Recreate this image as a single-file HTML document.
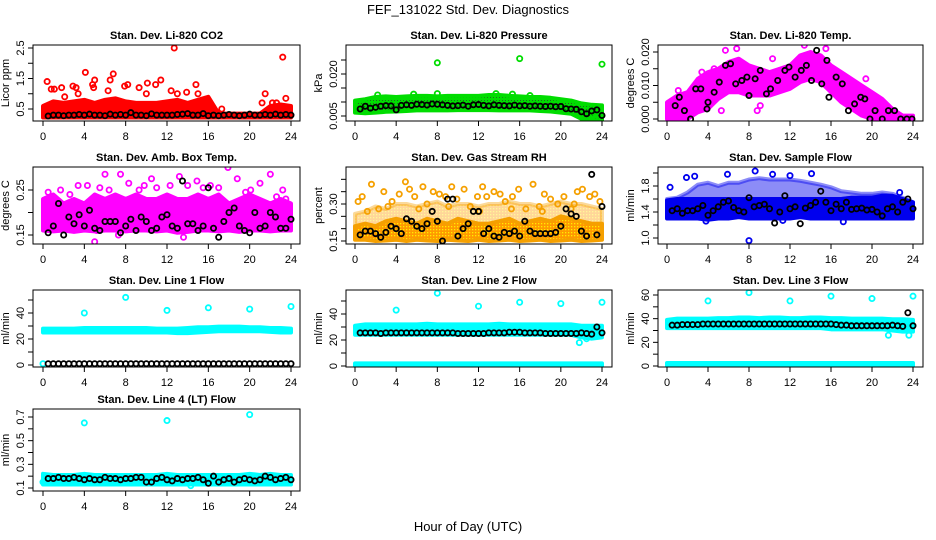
<!DOCTYPE html>
<html><head><meta charset="utf-8"><style>
html,body{margin:0;padding:0;background:#fff;}
svg{display:block;font-family:"Liberation Sans",Arial,sans-serif;}
</style></head><body>
<svg id="chart" width="936" height="540" viewBox="0 0 936 540">
<defs>
<pattern id="pat-green" width="3" height="3" patternUnits="userSpaceOnUse"><rect width="3" height="3" fill="#00dd00"/><rect x="1" y="1" width="1" height="1" fill="#226622"/></pattern>
<pattern id="pat-orange" width="3" height="3" patternUnits="userSpaceOnUse"><rect width="3" height="3" fill="#ff9900"/><rect x="1" y="1" width="1.3" height="1.3" fill="#ffee00"/></pattern>
</defs>
<rect width="936" height="540" fill="#fff"/>
<text x="468" y="14" text-anchor="middle" font-size="13">FEF_131022  Std. Dev. Diagnostics</text>
<text x="468" y="531" text-anchor="middle" font-size="13">Hour of Day (UTC)</text>
</svg>
<script>
// ---------- shared data ----------
const xTicks = [0,4,8,12,16,20,24];
const bandHours = [0,1,2,3,4,5,6,7,8,9,10,11,12,13,14,15,16,17,18,19,20,21,22,23,24];
const blackHours = [0.5,1,1.5,2,2.5,3,3.5,4,4.5,5,5.5,6,6.5,7,7.5,8,8.5,9,9.5,10,10.5,11,11.5,12,12.5,13,13.5,14,14.5,15,15.5,16,16.5,17,17.5,18,18.5,19,19.5,20,20.5,21,21.5,22,22.5,23,23.5,24];

// P1 CO2
const co2Lo = [0.22,0.22,0.22,0.22,0.22,0.22,0.22,0.22,0.22,0.22,0.22,0.22,0.22,0.22,0.22,0.22,0.22,0.22,0.22,0.22,0.22,0.22,0.22,0.22,0.22];
const co2Hi = [0.6,0.75,0.7,0.75,0.8,0.7,0.8,0.85,0.75,0.7,0.7,0.7,0.75,0.8,0.7,0.8,0.9,0.35,0.35,0.35,0.35,0.35,0.6,0.65,0.6];
const co2OutX = [0.4,0.8,1.1,1.8,2.1,2.9,3.2,3.4,4.1,4.8,5.0,4.9,6.3,6.5,6.8,7.9,8.2,9.3,10.0,10.1,10.9,11.4,12.4,12.7,13.0,13.9,14.8,15.0,17.3,21.2,21.5,22.2,22.6,23.2,23.5];
const co2OutY = [1.4,1.15,1.15,1.2,0.9,1.25,1.2,1.0,1.7,1.3,1.45,1.2,1.1,1.45,1.65,1.25,1.3,1.2,1.0,1.35,1.3,1.45,1.1,2.5,1.0,1.05,1.3,1.0,0.5,0.7,1.0,0.7,0.7,2.2,0.85];
const co2Black = [0.27,0.3,0.3,0.28,0.3,0.3,0.32,0.3,0.33,0.3,0.3,0.28,0.33,0.3,0.32,0.3,0.38,0.3,0.3,0.28,0.34,0.3,0.3,0.3,0.3,0.32,0.33,0.35,0.3,0.3,0.35,0.28,0.3,0.28,0.3,0.32,0.3,0.28,0.3,0.33,0.3,0.3,0.32,0.3,0.33,0.3,0.32,0.3];

// P2 Pressure
const presLo = [0.0062,0.006,0.0062,0.0065,0.0066,0.0068,0.007,0.007,0.007,0.007,0.0071,0.0071,0.0071,0.0071,0.007,0.007,0.007,0.007,0.0068,0.0066,0.0062,0.0058,0.004,0.0035,0.0035];
const presHi = [0.0105,0.011,0.0118,0.012,0.0118,0.012,0.0122,0.0122,0.012,0.0122,0.0122,0.0122,0.0122,0.0125,0.0125,0.0122,0.012,0.0118,0.0118,0.0115,0.011,0.0105,0.0095,0.009,0.0088];
const presOutX = [8,16,24,8,13.7,2.2,5.7,15.3,17.0,22.1,23.3];
const presOutY = [0.024,0.0255,0.0235,0.013,0.013,0.0125,0.0128,0.0128,0.0123,0.0045,0.0042];
const presBlack = [0.0075,0.0085,0.0078,0.0081,0.0085,0.0087,0.0086,0.0072,0.0088,0.009,0.0088,0.0092,0.0091,0.0089,0.0093,0.0092,0.009,0.0088,0.0086,0.0087,0.0089,0.0085,0.009,0.0091,0.0088,0.0086,0.009,0.0088,0.0087,0.0086,0.0089,0.0086,0.0087,0.0085,0.0086,0.0085,0.0084,0.0085,0.0083,0.0084,0.0076,0.0075,0.0074,0.0065,0.0058,0.0068,0.0072,0.0052];

// P3 Li-820 temp
const tempLo = [0,0,0,0.002,0.003,0.006,0.008,0.008,0.007,0.007,0.007,0.008,0.009,0.011,0.012,0.011,0.008,0.005,0.003,0.001,0,0,0,0,0];
const tempHi = [0.005,0.007,0.008,0.012,0.014,0.015,0.017,0.018,0.016,0.015,0.014,0.015,0.016,0.019,0.02,0.019,0.016,0.014,0.012,0.01,0.008,0.006,0.003,0.001,0.001];
const tempOutX = [5.7,6.8,8.8,9.1,10.3,13.4,15.5,5.3,4.6,3.4,19.4,20.8,2.1,1.1];
const tempOutY = [0.0205,0.021,0.0025,0.004,0.018,0.022,0.021,0.0025,0.015,0.014,0.012,0.0025,0.0075,0.0085];
const tempBlackX = [0.8,1.2,1.7,2.3,2.8,3.3,3.9,4,4.6,5.1,5.7,6.2,6.7,7.3,7.8,8,8.6,9.1,9.7,10.1,10.8,11.5,11.9,12.5,13.1,13.6,14.1,14.6,15.1,15.6,15.8,16.5,17.1,17.7,18.3,18.9,19.3,19.8,20.3,21,21.6,22.2,22.8,23.4,23.9];
const tempBlackY = [0.004,0.0065,0.0025,0,0.009,0.009,0.003,0.005,0.008,0.011,0.016,0.0165,0.0105,0.0115,0.0125,0.007,0.012,0.0145,0.0075,0.009,0.0115,0.0145,0.0155,0.0125,0.0145,0.016,0.0115,0.0205,0.0105,0.0175,0.0065,0.0125,0.0105,0.0025,0.0045,0.0065,0.006,0,0.0025,0,0.0025,0.0025,0,0,0];

// P4 Amb box temp
const ambLo = [0.16,0.158,0.16,0.157,0.16,0.158,0.16,0.16,0.158,0.16,0.16,0.158,0.16,0.155,0.157,0.16,0.16,0.158,0.16,0.157,0.16,0.16,0.158,0.16,0.16];
const ambHi = [0.23,0.24,0.22,0.23,0.22,0.24,0.23,0.24,0.23,0.24,0.23,0.23,0.24,0.23,0.23,0.24,0.23,0.24,0.22,0.23,0.24,0.23,0.22,0.23,0.22];
const ambOutX = [0.5,1.7,2.6,3.4,4.3,5.5,6.0,6.4,7.5,8.3,9.3,10.5,11.0,12.3,13.2,14.0,14.9,15.5,16.2,17.0,17.9,18.8,19.6,20.1,21.0,22.0,22.6,23.2,23.5,5.0,0.2,9.8,13.6,5.2,7.3];
const ambOutY = [0.245,0.25,0.24,0.26,0.26,0.255,0.285,0.25,0.285,0.265,0.25,0.275,0.255,0.26,0.28,0.26,0.27,0.255,0.26,0.255,0.3,0.275,0.245,0.25,0.265,0.285,0.235,0.25,0.23,0.135,0.22,0.26,0.145,0.16,0.15];
const ambBlack = [0.155,0.17,0.22,0.15,0.19,0.175,0.195,0.17,0.205,0.165,0.16,0.18,0.18,0.18,0.155,0.17,0.185,0.16,0.19,0.18,0.16,0.165,0.19,0.195,0.17,0.165,0.27,0.175,0.175,0.16,0.17,0.255,0.165,0.145,0.18,0.2,0.21,0.17,0.16,0.155,0.2,0.165,0.17,0.2,0.19,0.165,0.165,0.185];

// P5 Gas stream RH
const rhLo = [0.155,0.155,0.15,0.152,0.155,0.15,0.155,0.152,0.15,0.155,0.152,0.15,0.155,0.15,0.152,0.155,0.15,0.152,0.155,0.15,0.152,0.155,0.15,0.152,0.155];
const rhHi = [0.21,0.22,0.21,0.23,0.24,0.23,0.22,0.24,0.23,0.22,0.24,0.23,0.22,0.22,0.23,0.24,0.22,0.23,0.24,0.23,0.25,0.24,0.23,0.22,0.22];
const rhMidHi = [0.26,0.27,0.29,0.28,0.3,0.3,0.29,0.3,0.31,0.29,0.3,0.3,0.29,0.3,0.3,0.31,0.3,0.3,0.29,0.3,0.31,0.3,0.3,0.29,0.28];
const rhOutX = [0.3,0.7,1.6,2.3,2.8,3.6,4.3,4.9,5.3,5.8,6.6,7.0,7.6,8.2,8.8,9.4,9.9,10.6,11.2,11.9,12.4,12.8,13.5,14.1,14.6,15.3,15.9,16.6,17.3,17.9,18.4,19.0,19.7,20.3,21.0,21.6,22.1,22.8,23.3,23.8,1.2,3.2,6.2,9.1,12.1,15.2,18.2,21.3];
const rhOutY = [0.31,0.33,0.38,0.28,0.35,0.31,0.34,0.39,0.36,0.33,0.37,0.3,0.35,0.34,0.33,0.37,0.32,0.36,0.29,0.33,0.37,0.33,0.35,0.34,0.31,0.33,0.36,0.28,0.38,0.29,0.34,0.32,0.3,0.33,0.28,0.35,0.36,0.33,0.34,0.31,0.27,0.29,0.28,0.29,0.27,0.28,0.27,0.3];
const rhBlack = [0.175,0.19,0.19,0.18,0.165,0.185,0.21,0.2,0.18,0.24,0.23,0.21,0.2,0.22,0.27,0.23,0.15,0.32,0.32,0.17,0.2,0.22,0.27,0.27,0.18,0.2,0.17,0.165,0.185,0.18,0.19,0.17,0.23,0.19,0.18,0.18,0.18,0.18,0.185,0.21,0.28,0.26,0.25,0.19,0.17,0.42,0.175,0.29];

// P6 Sample flow
const sfLo = [1.3,1.3,1.3,1.3,1.28,1.3,1.3,1.32,1.3,1.3,1.3,1.3,1.3,1.32,1.3,1.3,1.3,1.3,1.3,1.3,1.3,1.3,1.3,1.3,1.3];
const sfMid = [1.58,1.6,1.6,1.6,1.6,1.6,1.6,1.6,1.6,1.6,1.6,1.6,1.6,1.6,1.6,1.6,1.6,1.6,1.62,1.62,1.62,1.65,1.65,1.6,1.55];
const sfHi = [1.6,1.62,1.7,1.82,1.85,1.8,1.85,1.85,1.9,1.92,1.9,1.9,1.9,1.88,1.85,1.82,1.78,1.72,1.7,1.68,1.68,1.7,1.68,1.62,1.55];
const sfOutX = [0.3,1.9,2.7,5.9,8.0,8.6,14.1,10.3,12.0,3.8,11.3,22.7,17.2];
const sfOutY = [1.78,1.93,1.95,1.98,0.96,2.03,1.99,1.98,1.96,1.26,1.27,1.7,1.25];
const sfBlack = [1.42,1.45,1.38,1.42,1.42,1.45,1.5,1.35,1.42,1.48,1.55,1.57,1.47,1.42,1.4,1.62,1.48,1.5,1.52,1.45,1.23,1.4,1.65,1.45,1.48,1.22,1.46,1.5,1.55,1.72,1.55,1.42,1.52,1.45,1.55,1.44,1.45,1.46,1.43,1.44,1.4,1.34,1.45,1.48,1.4,1.55,1.6,1.45];

// P7 Line 1
const l1Lo = [25,25,25,25,25,25,25,25,25,25,25,25,25,24.5,24.5,25,25.5,26,26,26,26,26,25.5,25,25];
const l1Hi = [28,28,28,28,28.5,28.5,28.5,28.5,28.5,28.5,28.5,28,28,28,28.5,29,29,29.5,29.5,29.5,29,29,28.5,28.5,28];
const l1OutX = [4,8,12,16,20,24,0];
const l1OutY = [40,52,42,44,43,45,1];
const l1Black = [1,1,1,1,1,1,1,1,1,1,1,1,1,1,1,1,1,1,1,1,1,1,1,1,1,1,1,1,1,1,1,1,1,1,1,1,1,1,1,1,1,1,1,1,1,1,1,1];

// P8 Line 2
const l2Lo = [24,24,24,24,24,24,24,24,24,24,24,24,24,24,24,24,24,24,24,24,24,24,22,21,22];
const l2Hi = [31,32,32,32,32,32,32,32.5,32,32,32,32,32,32,32.5,32,32,32,32,32,32,32,31,31,31];
const l2BaseLo = [0,0,0,0,0,0,0,0,0,0,0,0,0,0,0,0,0,0,0,0,0,0,0,0,0];
const l2BaseHi = [2,2,2,2,2,2,2,2,2,2,2,2,2,2,2,2,2,2,2,2,2,2,2,2,2];
const l2OutX = [4,8,12,16,20,24,21.8,22.5];
const l2OutY = [43,56,46,49,48,49,18,21];
const l2Black = [25.5,25.5,25.5,25.5,25,25.5,25.5,25.5,25.5,25.5,25.5,25.5,25.5,25.5,25.5,25.5,25.5,25.5,25.5,25,25,25,25,25,25,25.5,25.5,25.5,25.5,26,26,26,25.5,25.5,25.5,25.5,25,25,25,25,25,25,25,25.5,25,24.5,30,25.5];

// P9 Line 3
const l3Lo = [32,32,32,32,32,32,32,32,32,32,32,32,32,32,32,32,31,31,31,31,31,31,30,29,29];
const l3Hi = [39,40,40,40,40,40.5,40.5,41,41,40.5,41,41,40.5,40.5,41,41,40.5,40.5,40,40,40,40,39.5,39.5,39];
const l3BaseLo = [0,0,0,0,0,0,0,0,0,0,0,0,0,0,0,0,0,0,0,0,0,0,0,0,0];
const l3BaseHi = [2.5,2.5,2.5,2.5,2.5,2.5,2.5,2.5,2.5,2.5,2.5,2.5,2.5,2.5,2.5,2.5,2.5,2.5,2.5,2.5,2.5,2.5,2.5,2.5,2.5];
const l3OutX = [4,8,12,16,20,24,21.6,23.6];
const l3OutY = [55,62,55,59,57,59,26,26];
const l3Black = [34.5,34.5,35,35,35,35,35.5,35.5,35.5,35.5,35.5,35.5,35.5,35.5,35.5,35.5,35.5,35.5,35.5,35.5,35.5,35.5,35.5,35.5,35.5,35.5,35.5,35.5,35.5,35.5,35.5,35.5,35,34.5,34.5,34,34,34,34,34,34,34,34,34.5,34,33.5,45,34];

// P10 Line 4 (LT)
const l4Lo = [0.13,0.13,0.13,0.13,0.13,0.13,0.13,0.13,0.13,0.13,0.13,0.13,0.13,0.13,0.13,0.13,0.13,0.13,0.13,0.13,0.13,0.13,0.13,0.13,0.13];
const l4Hi = [0.22,0.21,0.21,0.21,0.22,0.21,0.21,0.21,0.21,0.21,0.21,0.21,0.22,0.21,0.21,0.21,0.21,0.21,0.21,0.21,0.22,0.21,0.22,0.21,0.21];
const l4OutX = [4,12,20,14.3,0,23.5];
const l4OutY = [0.65,0.67,0.72,0.12,0.15,0.15];
const l4Black = [0.18,0.18,0.19,0.18,0.18,0.19,0.18,0.17,0.18,0.17,0.17,0.19,0.18,0.18,0.17,0.18,0.18,0.19,0.19,0.15,0.15,0.18,0.19,0.17,0.16,0.18,0.17,0.18,0.18,0.19,0.17,0.14,0.2,0.15,0.17,0.18,0.15,0.17,0.18,0.17,0.16,0.17,0.2,0.19,0.17,0.18,0.19,0.17];

// ---------- layout (not data) ----------
const COLS = [{l:33,r:300,x0:43,x1:291},{l:346,r:612,x0:355,x1:602},{l:658,r:923,x0:667,x1:913}];
const ROWS = [{t:45,b:121},{t:167,b:244},{t:290,b:367},{t:409,b:491}];
const NS = 'http://www.w3.org/2000/svg';
const svg = document.getElementById('chart');

function mk(tag, attrs, parent){
  const e = document.createElementNS(NS, tag);
  for (const k in attrs) e.setAttribute(k, attrs[k]);
  (parent||svg).appendChild(e);
  return e;
}

function panel(cfg){
  const c = COLS[cfg.col], r = ROWS[cfg.row];
  const g = mk('g', {});
  
  
  const xs = v => c.x0 + (v/24)*(c.x1-c.x0);
  const ys = v => cfg.py0 - (v-cfg.v0)/(cfg.v1-cfg.v0)*(cfg.py0-cfg.py1);
  const cid = 'clip-'+cfg.name;
  const cp = mk('clipPath', {id:cid}, g);
  mk('rect', {x:c.l, y:r.t, width:c.r-c.l, height:r.b-r.t}, cp);
  const plot = mk('g', {'clip-path':'url(#'+cid+')'}, g);
  
  
  (cfg.bands||[]).forEach(b=>{
    let pts = [];
    bandHours.forEach((h,i)=>pts.push(xs(h)+','+ys(b.hi[i])));
    for (let i=bandHours.length-1;i>=0;i--) pts.push(xs(bandHours[i])+','+ys(b.lo[i]));
    const col = b.fill || cfg.fill || cfg.color;
    const p = mk('polygon', {points:pts.join(' '), fill:col, 'fill-opacity':b.op||1, stroke:cfg.stroke||cfg.color, 'stroke-opacity':b.op||1, 'stroke-width':4, 'stroke-linejoin':'round'}, plot);
    
    
  });
  cfg.ox.forEach((x,i)=>{
    const e = mk('circle', {cx:xs(x), cy:ys(cfg.oy[i]), r:2.6, fill:'none', stroke:cfg.stroke||cfg.color, 'stroke-width':1.8}, plot);
    
    
  });
  cfg.bx.forEach((x,i)=>{
    const e = mk('circle', {cx:xs(x), cy:ys(cfg.by[i]), r:2.6, fill:'none', stroke:'#000', 'stroke-width':1.8}, plot);
    
    
  });
  const bx = mk('rect', {x:c.l, y:r.t, width:c.r-c.l, height:r.b-r.t, fill:'none', stroke:'#000', 'stroke-width':1}, g);
  
  
  xTicks.forEach(t=>{
    const X = xs(t);
    mk('line', {x1:X, x2:X, y1:r.b, y2:r.b+5, stroke:'#000'}, g);
    const tl = mk('text', {x:X, y:r.b+19, 'text-anchor':'middle', 'font-size':11}, g);
    tl.textContent = t;
    
    
  });
  cfg.yt.forEach((t,i)=>{
    const Y = ys(t);
    mk('line', {x1:c.l-5, x2:c.l, y1:Y, y2:Y, stroke:'#000'}, g);
    const lab = cfg.yl[i];
    if (lab !== '') {
      const tl = mk('text', {x:0, y:0, 'text-anchor':'middle', 'font-size':11, transform:'translate('+(c.l-9)+','+Y+') rotate(-90)'}, g);
      tl.textContent = lab;
      
      
    }
  });
  const yt = mk('text', {x:0, y:0, 'text-anchor':'middle', 'font-size':11, transform:'translate('+(c.l-24)+','+((r.t+r.b)/2)+') rotate(-90)'}, g);
  yt.textContent = cfg.ylabel;
  
  
  const tt = mk('text', {x:(c.l+c.r)/2, y:r.t-6, 'text-anchor':'middle', 'font-size':11, 'font-weight':'bold'}, g);
  tt.textContent = cfg.title;
  
  
}

panel({name:'co2-panel', row:0, col:0, title:'Stan. Dev. Li-820 CO2', ylabel:'Licor ppm', color:'#ff0000',
  v0:0.5, v1:2.5, py0:109, py1:48, yt:[0.5,1,1.5,2,2.5], yl:['0.5','','1.5','','2.5'],
  bands:[{lo:co2Lo, hi:co2Hi}], ox:co2OutX, oy:co2OutY, bx:blackHours, by:co2Black});
panel({name:'pressure-panel', row:0, col:1, title:'Stan. Dev. Li-820 Pressure', ylabel:'kPa', color:'#00dd00', fill:'url(#pat-green)',
  v0:0.005, v1:0.02, py0:116, py1:74, yt:[0.005,0.01,0.015,0.02,0.025], yl:['0.005','','','0.020',''],
  bands:[{lo:presLo, hi:presHi}], ox:presOutX, oy:presOutY, bx:blackHours, by:presBlack});
panel({name:'temp-panel', row:0, col:2, title:'Stan. Dev. Li-820 Temp.', ylabel:'degrees C', color:'#ff00ff',
  v0:0, v1:0.02, py0:119, py1:52, yt:[0,0.005,0.01,0.015,0.02], yl:['0.000','','0.010','','0.020'],
  bands:[{lo:tempLo, hi:tempHi}], ox:tempOutX, oy:tempOutY, bx:tempBlackX, by:tempBlackY});
panel({name:'amb-box-panel', row:1, col:0, title:'Stan. Dev. Amb. Box Temp.', ylabel:'degrees C', color:'#ff00ff',
  v0:0.15, v1:0.25, py0:235, py1:190, yt:[0.15,0.2,0.25], yl:['0.15','','0.25'],
  bands:[{lo:ambLo, hi:ambHi}], ox:ambOutX, oy:ambOutY, bx:blackHours, by:ambBlack});
panel({name:'gas-rh-panel', row:1, col:1, title:'Stan. Dev. Gas Stream RH', ylabel:'percent', color:'#ffb000', stroke:'#f5a000', fill:'url(#pat-orange)',
  v0:0.15, v1:0.30, py0:241, py1:204, yt:[0.15,0.2,0.25,0.3,0.35,0.4], yl:['0.15','','','0.30','',''],
  bands:[{lo:rhHi, hi:rhMidHi, op:0.4},{lo:rhLo, hi:rhHi}], ox:rhOutX, oy:rhOutY, bx:blackHours, by:rhBlack});
panel({name:'sample-flow-panel', row:1, col:2, title:'Stan. Dev. Sample Flow', ylabel:'ml/min', color:'#0000ee',
  v0:1.0, v1:1.8, py0:238, py1:186, yt:[1.0,1.2,1.4,1.6,1.8,2.0], yl:['1.0','','1.4','','1.8',''],
  bands:[{lo:sfMid, hi:sfHi, op:0.45},{lo:sfLo, hi:sfMid}], ox:sfOutX, oy:sfOutY, bx:blackHours, by:sfBlack});
panel({name:'line1-panel', row:2, col:0, title:'Stan. Dev. Line 1 Flow', ylabel:'ml/min', color:'#00ffff',
  v0:0, v1:40, py0:365, py1:313, yt:[0,10,20,30,40,50], yl:['0','','20','','40',''],
  bands:[{lo:l1Lo, hi:l1Hi}], ox:l1OutX, oy:l1OutY, bx:blackHours, by:l1Black});
panel({name:'line2-panel', row:2, col:1, title:'Stan. Dev. Line 2 Flow', ylabel:'ml/min', color:'#00ffff',
  v0:0, v1:40, py0:366, py1:314, yt:[0,10,20,30,40,50], yl:['0','','20','','40',''],
  bands:[{lo:l2Lo, hi:l2Hi},{lo:l2BaseLo, hi:l2BaseHi}], ox:l2OutX, oy:l2OutY, bx:blackHours, by:l2Black});
panel({name:'line3-panel', row:2, col:2, title:'Stan. Dev. Line 3 Flow', ylabel:'ml/min', color:'#00ffff',
  v0:0, v1:60, py0:366, py1:295, yt:[0,10,20,30,40,50,60], yl:['0','','20','','40','','60'],
  bands:[{lo:l3Lo, hi:l3Hi},{lo:l3BaseLo, hi:l3BaseHi}], ox:l3OutX, oy:l3OutY, bx:blackHours, by:l3Black});
panel({name:'line4-panel', row:3, col:0, title:'Stan. Dev. Line 4 (LT) Flow', ylabel:'ml/min', color:'#00ffff',
  v0:0.1, v1:0.7, py0:488, py1:417, yt:[0.1,0.2,0.3,0.4,0.5,0.6,0.7], yl:['0.1','','0.3','','0.5','','0.7'],
  bands:[{lo:l4Lo, hi:l4Hi}], ox:l4OutX, oy:l4OutY, bx:blackHours, by:l4Black});
</script>
</body></html>
